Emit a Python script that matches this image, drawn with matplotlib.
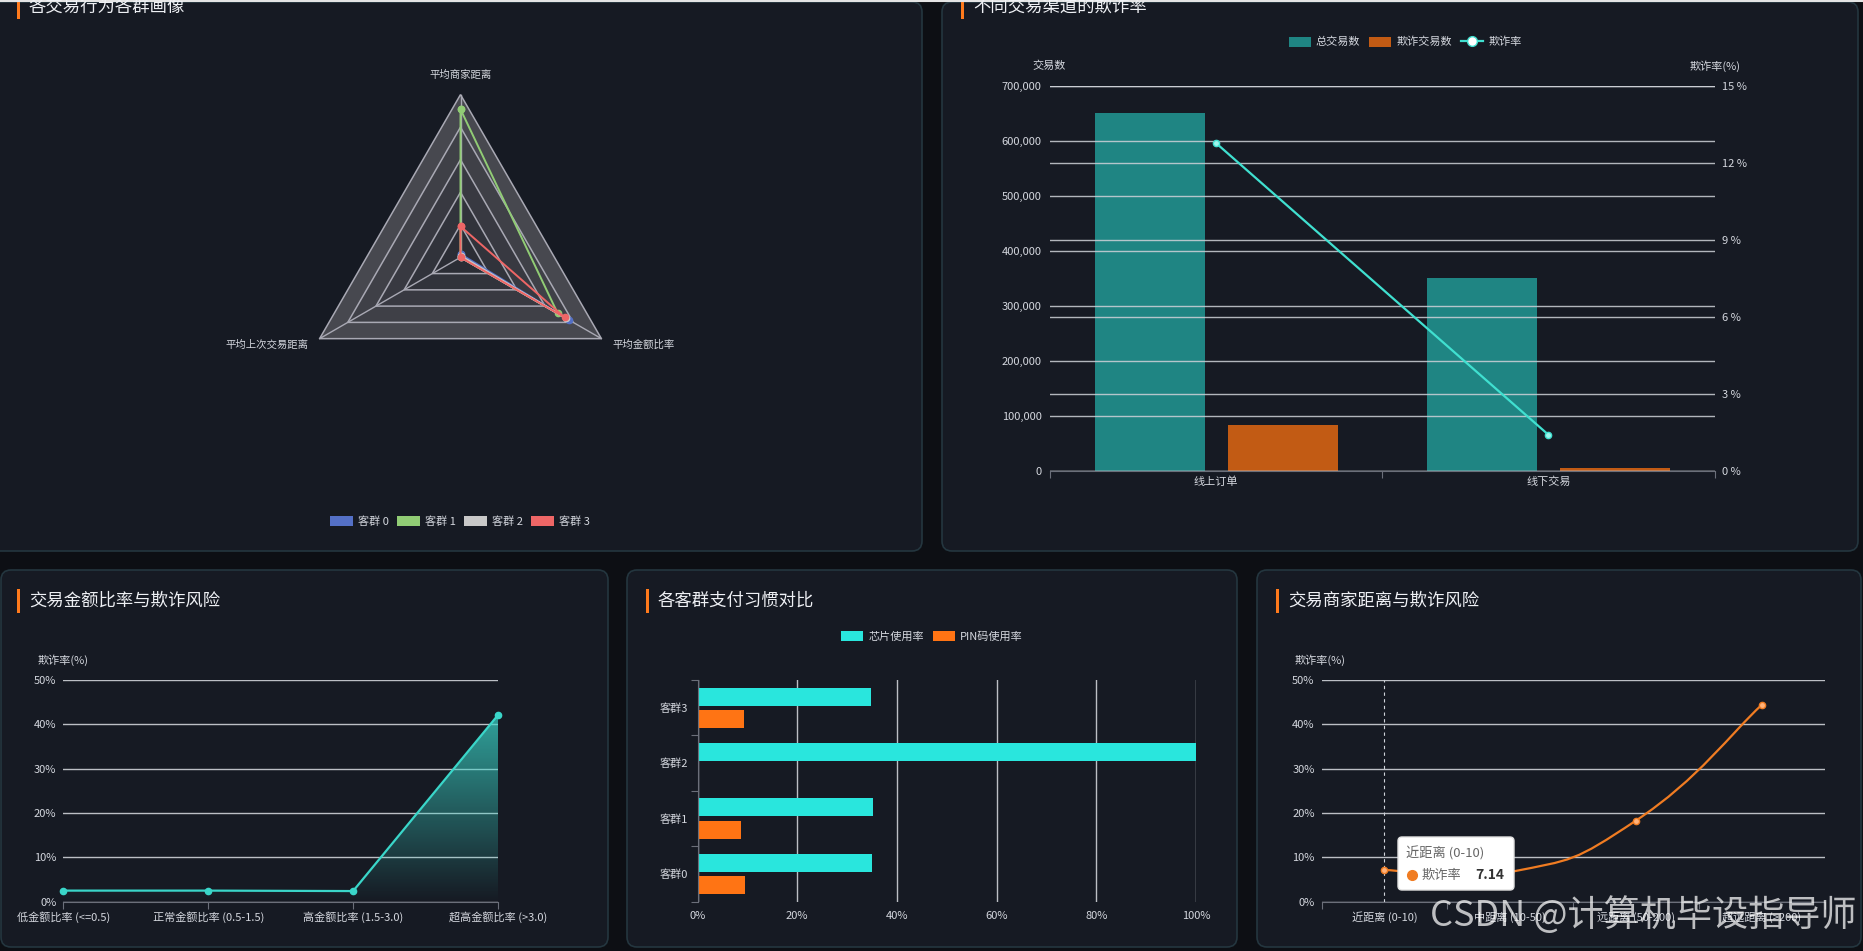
import numpy as np
import matplotlib
matplotlib.use("Agg")
import matplotlib.pyplot as plt
from matplotlib.patches import FancyBboxPatch, Patch, Rectangle, PathPatch, Polygon
from matplotlib.lines import Line2D
from matplotlib.path import Path
from matplotlib.colors import LinearSegmentedColormap

plt.rcParams['font.family'] = ['Noto Sans CJK SC', 'DejaVu Sans']

# ---- data ----
radar_axes = ["平均商家距离", "平均上次交易距离", "平均金额比率"]
radar_groups = ["客群 0", "客群 1", "客群 2", "客群 3"]
radar_c0 = [0.02, 0.00, 0.77]
radar_c1 = [0.91, 0.00, 0.69]
radar_c2 = [0.01, 0.00, 0.75]
radar_c3 = [0.19, 0.00, 0.74]

channels = ["线上订单", "线下交易"]
channel_total = [650000, 350000]
channel_fraud = [83000, 4900]
channel_rate = [12.77, 1.40]

ratio_bins = ["低金额比率 (<=0.5)", "正常金额比率 (0.5-1.5)",
              "高金额比率 (1.5-3.0)", "超高金额比率 (>3.0)"]
ratio_rate = [2.5, 2.5, 2.4, 42.1]

pay_groups = ["客群0", "客群1", "客群2", "客群3"]
chip_rate = [35.1, 35.2, 100.0, 34.8]
pin_rate = [9.6, 8.8, 0.0, 9.4]

dist_bins = ["近距离 (0-10)", "中距离 (10-50)", "远距离 (50-200)", "超远距离 (>200)"]
dist_rate = [7.14, 6.7, 18.3, 44.4]

# ---- styling ----
BG = '#0d0f14'
PANEL = '#161a23'
EDGE = '#24363f'
TEXT = '#d4d7de'
TITLE = '#eef0f4'
GRID = '#cfd2d8'
AXIS = '#6b6f7a'
ACCENT = '#ff7a1c'
TEAL_BAR = '#1f8583'
RUST = '#c25b14'
RATE_LINE = '#40e0d0'
CYAN_LINE = '#3ad6c9'
CHIP = '#29e6dd'
PIN = '#ff7414'
DIST_LINE = '#f07c22'
RADAR_COLORS = ['#5470c6', '#91cc75', '#c8c8c8', '#ee6666']
RING_FILLS = ['#2b2d35', '#31333b', '#383941', '#3f4047', '#47484f']

W, H = 1863, 951
fig = plt.figure(figsize=(W / 100, H / 100), dpi=100, facecolor=BG)


def box(x0, y0, x1, y1):
    return [x0 / W, 1 - y1 / H, (x1 - x0) / W, (y1 - y0) / H]


# background layer in pixel coordinates
bg = fig.add_axes([0, 0, 1, 1], zorder=-5)
bg.set_xlim(0, W)
bg.set_ylim(H, 0)
bg.axis('off')
bg.plot([0, W], [0.7, 0.7], color='#e4e4e4', lw=1.5)

panels = [(-12, 2, 922, 551), (942, 2, 1858, 551), (1, 570, 608, 947),
          (627, 570, 1237, 947), (1257, 570, 1861, 947)]
for x0, y0, x1, y1 in panels:
    bg.add_patch(FancyBboxPatch((x0, y0), x1 - x0, y1 - y0,
                                boxstyle="round,pad=0,rounding_size=10",
                                fc=PANEL, ec=EDGE, lw=1.2))

titles = [("各交易行为各群画像", 18, 7), ("不同交易渠道的欺诈率", 962, 7),
          ("交易金额比率与欺诈风险", 18, 601), ("各客群支付习惯对比", 647, 601),
          ("交易商家距离与欺诈风险", 1277, 601)]
for t, x, y in titles:
    bg.add_patch(Rectangle((x - 1.5, y - 12), 3.5, 24, color=ACCENT, lw=0))
    bg.text(x + 11, y, t, fontsize=12.5, color=TITLE, va='center', ha='left')


def style_ax(ax):
    ax.set_facecolor('none')
    for s in ax.spines.values():
        s.set_visible(False)
    ax.tick_params(colors=TEXT, labelsize=8, length=0)


def small_legend(handles, labels, cx, cy):
    fig.legend(handles, labels, loc='center', bbox_to_anchor=(cx / W, 1 - cy / H),
               ncol=len(handles), frameon=False, fontsize=8, labelcolor=TEXT,
               handlelength=2.0, handleheight=1.0, handletextpad=0.45,
               columnspacing=0.8, borderpad=0, borderaxespad=0)


# ---- radar ----
R_PX = 162.7
cx, cy = 460.5, 257.3
lim = 250 / R_PX
rad = fig.add_axes(box(cx - 250, cy - 250, cx + 250, cy + 250))
rad.set_xlim(-lim, lim)
rad.set_ylim(-lim, lim)
rad.axis('off')
ang = np.deg2rad([90, 210, 330])
ux, uy = np.cos(ang), np.sin(ang)
for k in range(5, 0, -1):
    r = k / 5
    rad.add_patch(Polygon(np.c_[ux * r, uy * r], closed=True, fc=RING_FILLS[k - 1],
                          ec='#a9a9b4', lw=1.1, zorder=1))
for i in range(3):
    rad.plot([0, ux[i]], [0, uy[i]], color='#a9a9b4', lw=1.0, zorder=1)
for vals, col in zip([radar_c0, radar_c1, radar_c2, radar_c3], RADAR_COLORS):
    v = np.array(vals)
    px = np.append(v * ux, v[0] * ux[0])
    py = np.append(v * uy, v[0] * uy[0])
    rad.plot(px, py, color=col, lw=1.4, marker='o', ms=4.5, zorder=3)
for i, name in enumerate(radar_axes):
    if i == 0:
        rad.text(0, 1.12, name, ha='center', va='center', fontsize=7.5, color=TEXT)
    else:
        rad.text(ux[i] * 1.08, uy[i] * 1.075, name, ha='left' if ux[i] > 0 else 'right',
                 va='center', fontsize=7.5, color=TEXT)
small_legend([Patch(fc=c) for c in RADAR_COLORS], radar_groups, 460, 521.4)

# ---- channel bars + fraud rate ----
ax = fig.add_axes(box(1050, 86, 1714.6, 470.7))
style_ax(ax)
xc = np.arange(len(channels)) + 0.5
ax.bar(xc - 0.2, channel_total, width=0.331, color=TEAL_BAR, zorder=1)
ax.bar(xc + 0.2, channel_fraud, width=0.331, color=RUST, zorder=1)
ax.set_xlim(0, len(channels))
ax.set_ylim(0, 700000)
yt = np.arange(0, 700001, 100000)
ax.set_yticks(yt)
ax.set_yticklabels([f"{v:,}" for v in yt])
ax.grid(axis='y', color=GRID, lw=1.0, alpha=0.85, zorder=2)
ax.set_axisbelow(False)
ax.spines['bottom'].set_visible(True)
ax.spines['bottom'].set_color(AXIS)
ax.set_xticks(np.arange(len(channels) + 1))
ax.set_xticklabels([])
ax.set_xticks(xc, minor=True)
ax.set_xticklabels(channels, minor=True)
ax.tick_params(axis='x', which='major', length=5, color=AXIS)
ax.tick_params(axis='x', which='minor', length=0, pad=4, labelsize=8, colors=TEXT)
ax.tick_params(axis='y', pad=6)
ax.xaxis.grid(False)
ax2 = ax.twinx()
style_ax(ax2)
ax2.set_ylim(0, 15)
rt = np.arange(0, 16, 3)
ax2.set_yticks(rt)
ax2.set_yticklabels([f"{v} %" for v in rt])
ax2.tick_params(axis='y', pad=5)
ax2.grid(axis='y', color=GRID, lw=1.0, alpha=0.85)
ax2.plot(xc, channel_rate, color=RATE_LINE, lw=1.6, marker='o', ms=4.5,
         mfc='#9ff5ec', mec=RATE_LINE, zorder=5)
bg.text(1049, 66, "交易数", ha='center', va='center', fontsize=8, color=TEXT)
bg.text(1714.6, 66, "欺诈率(%)", ha='center', va='center', fontsize=8, color=TEXT)
small_legend([Patch(fc=TEAL_BAR), Patch(fc=RUST),
              Line2D([], [], color=RATE_LINE, lw=1.6, marker='o', ms=7,
                     mfc='white', mec=RATE_LINE)],
             ["总交易数", "欺诈交易数", "欺诈率"], 1405, 42)

# ---- amount ratio vs fraud ----
ax = fig.add_axes(box(63.3, 680, 498, 901.7))
style_ax(ax)
xs = np.arange(len(ratio_bins))
area = ax.fill_between(xs, ratio_rate, 0, color='none', lw=0)
clip = PathPatch(area.get_paths()[0], transform=ax.transData, fc='none', ec='none')
ax.add_patch(clip)
cmap = LinearSegmentedColormap.from_list(
    'fade', [(0.23, 0.84, 0.79, 0.0), (0.23, 0.84, 0.79, 0.72)])
img = ax.imshow(np.linspace(0, 1, 256).reshape(-1, 1), extent=[xs[0], xs[-1], 0, max(ratio_rate)],
                origin='lower', cmap=cmap, aspect='auto', zorder=2)
img.set_clip_path(clip)
ax.plot(xs, ratio_rate, color=CYAN_LINE, lw=1.6, marker='o', ms=4.5, zorder=4, clip_on=False)
ax.set_xlim(xs[0], xs[-1])
ax.set_ylim(0, 50)
ax.set_yticks(range(0, 51, 10))
ax.set_yticklabels([f"{v}%" for v in range(0, 51, 10)])
ax.grid(axis='y', color=GRID, lw=1.0, alpha=0.9)
ax.set_axisbelow(True)
ax.spines['bottom'].set_visible(True)
ax.spines['bottom'].set_color(AXIS)
ax.set_xticks(xs)
ax.set_xticklabels(ratio_bins)
ax.tick_params(axis='x', length=5, color=AXIS, pad=2)
ax.tick_params(axis='y', pad=5)
bg.text(63, 660, "欺诈率(%)", ha='center', va='center', fontsize=8, color=TEXT)

# ---- payment habits ----
ax = fig.add_axes(box(697.5, 680, 1196, 901.7))
style_ax(ax)
ys = np.arange(len(pay_groups))
ax.barh(ys + 0.2, chip_rate, height=0.325, color=CHIP, zorder=2)
ax.barh(ys - 0.2, pin_rate, height=0.325, color=PIN, zorder=2)
ax.set_xlim(0, 100)
ax.set_ylim(-0.5, len(pay_groups) - 0.5)
ax.set_xticks(range(0, 101, 20))
ax.set_xticklabels([f"{v}%" for v in range(0, 101, 20)])
ax.grid(axis='x', color=GRID, lw=1.0, alpha=0.9)
ax.set_axisbelow(True)
ax.spines['left'].set_visible(True)
ax.spines['left'].set_color(AXIS)
ax.set_yticks(np.arange(len(pay_groups) + 1) - 0.5)
ax.set_yticklabels([])
ax.set_yticks(ys, minor=True)
ax.set_yticklabels(pay_groups, minor=True)
ax.tick_params(axis='y', which='major', length=5, color=AXIS)
ax.tick_params(axis='y', which='minor', length=0, pad=7, labelsize=8, colors=TEXT)
ax.tick_params(axis='x', pad=7)
small_legend([Patch(fc=CHIP), Patch(fc=PIN)], ["芯片使用率", "PIN码使用率"], 932, 636)

# ---- merchant distance vs fraud ----
ax = fig.add_axes(box(1321.5, 680, 1824.7, 901.7))
style_ax(ax)
xd = np.arange(len(dist_bins)) + 0.5
pts = np.c_[xd, dist_rate]
verts, codes = [pts[0]], [Path.MOVETO]
for i in range(len(pts) - 1):
    p_prev = pts[max(i - 1, 0)]
    p_next2 = pts[min(i + 2, len(pts) - 1)]
    c1 = pts[i] + 0.25 * (pts[i + 1] - p_prev)
    c2 = pts[i + 1] - 0.25 * (p_next2 - pts[i])
    verts += [c1, c2, pts[i + 1]]
    codes += [Path.CURVE4] * 3
ax.add_patch(PathPatch(Path(verts, codes), fc='none', ec=DIST_LINE, lw=1.6, zorder=4))
ax.plot(xd, dist_rate, ls='none', marker='o', ms=4.5, mfc='#ffb27a', mec=DIST_LINE, zorder=5)
ax.axvline(xd[0], color='#cfd3da', lw=0.8, ls=(0, (3, 3)), zorder=3)
ax.set_xlim(0, len(dist_bins))
ax.set_ylim(0, 50)
ax.set_yticks(range(0, 51, 10))
ax.set_yticklabels([f"{v}%" for v in range(0, 51, 10)])
ax.grid(axis='y', color=GRID, lw=1.0, alpha=0.9)
ax.set_axisbelow(True)
ax.spines['bottom'].set_visible(True)
ax.spines['bottom'].set_color(AXIS)
ax.set_xticks(np.arange(len(dist_bins) + 1))
ax.set_xticklabels([])
ax.set_xticks(xd, minor=True)
ax.set_xticklabels(dist_bins, minor=True)
ax.tick_params(axis='x', which='major', length=5, color=AXIS)
ax.tick_params(axis='x', which='minor', length=0, pad=7, labelsize=8, colors=TEXT)
ax.tick_params(axis='y', pad=5)
bg.text(1320, 660, "欺诈率(%)", ha='center', va='center', fontsize=8, color=TEXT)

# ---- overlay: tooltip and watermark ----
ov = fig.add_axes([0, 0, 1, 1], zorder=20)
ov.set_xlim(0, W)
ov.set_ylim(H, 0)
ov.axis('off')
ov.add_patch(FancyBboxPatch((1398, 837), 116, 53, boxstyle="round,pad=0,rounding_size=4",
                            fc='white', ec='#e2e2e2', lw=1))
ov.text(1406, 853, dist_bins[0], fontsize=9.5, color='#666666', va='center', ha='left')
ov.plot([1412], [875], 'o', color=DIST_LINE, ms=7)
ov.text(1422, 875, "欺诈率", fontsize=9.5, color='#666666', va='center', ha='left')
ov.text(1504, 875, f"{dist_rate[0]:.2f}", fontsize=10, fontweight='bold', color='#333333',
        va='center', ha='right')
ov.text(1643, 915, "CSDN @计算机毕设指导师", fontsize=26, color='white', alpha=0.72,
        ha='center', va='center')

fig.savefig("out.png", dpi=100, facecolor=BG)
